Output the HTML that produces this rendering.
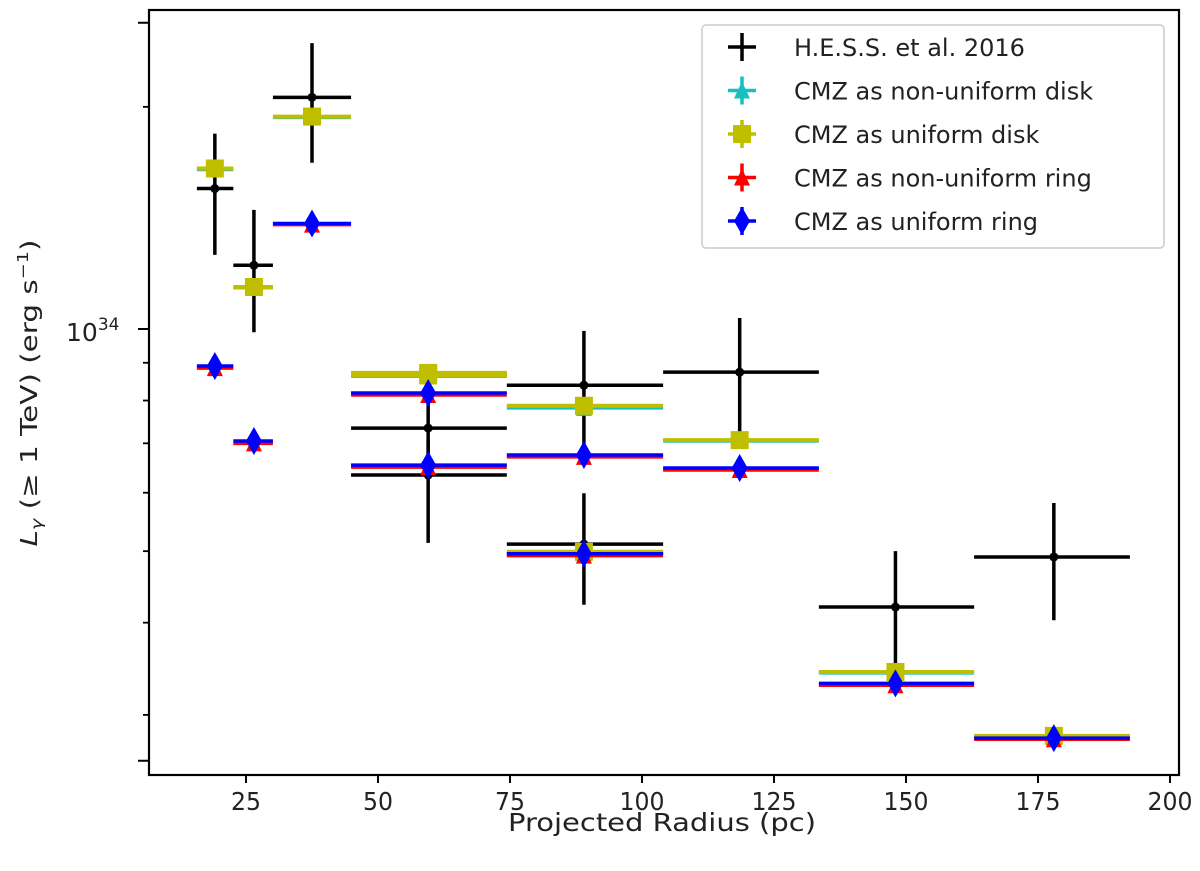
<!DOCTYPE html>
<html><head><meta charset="utf-8"><style>
html,body{margin:0;padding:0;background:#fff;}
svg{display:block;font-family:"DejaVu Sans","Liberation Sans",sans-serif;}
</style></head><body>
<svg id="chart" width="1200" height="871" viewBox="0 0 1200 871" xmlns="http://www.w3.org/2000/svg">
<rect x="0" y="0" width="1200" height="871" fill="#fff"/>
<g id="marks"></g>
<rect x="149" y="10" width="1030" height="765" fill="none" stroke="#000" stroke-width="2.2"/>
<g id="axes"></g>
<text x="662" y="831" font-size="25" text-anchor="middle" textLength="308" lengthAdjust="spacingAndGlyphs" fill="#222">Projected Radius (pc)</text>
<text transform="translate(37,393) rotate(-90)" font-size="23" text-anchor="middle" textLength="307" lengthAdjust="spacingAndGlyphs" fill="#222"><tspan font-style="italic">L</tspan><tspan font-style="italic" font-size="15" dy="5">γ</tspan><tspan dy="-5"> (≥ 1 TeV) (erg s</tspan><tspan font-size="15" dy="-9">−1</tspan><tspan dy="9">)</tspan></text>
<g>
<rect x="702" y="25" width="462" height="223" rx="4" fill="#fff" stroke="#ccc" stroke-width="1.5"/>
<g id="legend-entries"></g>
</g>
</svg>
<script>
const lo=[15.7,22.6,30.1,44.9,44.9,74.4,74.4,104,133.5,162.9];
const hi=[22.6,30.1,44.9,74.4,74.4,104,104,133.5,162.9,192.4];
const centers=[19.1,26.5,37.5,59.5,59.5,89,89,118.5,148,178];
const hessVal=[15.5,12.2,20.6,7.34,6.34,8.39,5.11,8.74,4.20,4.91];
const hessLo=[12.6,9.9,16.8,6.5,5.13,6.54,4.23,7.07,3.48,4.03];
const hessHi=[18.4,14.5,24.4,8.2,7.1,9.94,5.99,10.35,5.0,5.81];
const nonUniDisk=[16.45,11.38,19.35,8.7,8.63,7.82,4.97,7.05,3.42,2.80];
const uniDisk=[16.5,11.4,19.4,8.72,8.65,7.87,4.99,7.07,3.43,2.81];
const nonUniRing=[8.85,7.0,13.85,8.14,6.5,6.71,4.93,6.44,3.29,2.78];
const uniRing=[8.91,7.05,13.9,8.19,6.54,6.75,4.96,6.48,3.31,2.79];
const xTicks=[25,50,75,100,125,150,175,200];
const yMinorTicks=[3,4,5,6,7,8,9,20];
const yMajorTicks=[2.6,10,26];

const NS='http://www.w3.org/2000/svg';
function X(v){return 114+5.28*v;}
function Y(v){return 329-738*Math.log10(v/10);}
function mk(tag,attrs,parent){const e=document.createElementNS(NS,tag);for(const k in attrs)e.setAttribute(k,attrs[k]);parent.appendChild(e);return e;}
const marks=document.getElementById('marks');
const axes=document.getElementById('axes');

function hline(g,i,y,color,w){
  const l=mk('line',{x1:X(lo[i]),x2:X(hi[i]),y1:y,y2:y,stroke:color,'stroke-width':w},g);
  
  
}
function marker(g,type,cx,cy,color){
  let e;
  if(type==='circle'){e=mk('circle',{cx:cx,cy:cy,r:4.5,fill:color},g);}
  else if(type==='square'){e=mk('rect',{x:cx-9,y:cy-9,width:18,height:18,fill:color},g);}
  else if(type==='diamond'){e=mk('polygon',{points:`${cx},${cy-14} ${cx+8},${cy} ${cx},${cy+14} ${cx-8},${cy}`,fill:color},g);}
  else if(type==='tri'){e=mk('polygon',{points:`${cx},${cy-9} ${cx+8},${cy+8} ${cx-8},${cy+8}`,fill:color},g);}
  return e;
}
function series(name,vals,color,type,w){
  const g=mk('g',{},marks);
  
  
  vals.forEach((v,i)=>{
    const y=Y(v);
    hline(g,i,y,color,w);
    const m=marker(g,type,X(centers[i]),y,color);
    
    
  });
}
(function(){
  const g=mk('g',{},marks);
  
  
  hessVal.forEach((v,i)=>{
    const cx=X(centers[i]);
    const vl=mk('line',{x1:cx,x2:cx,y1:Y(hessHi[i]),y2:Y(hessLo[i]),stroke:'#000','stroke-width':3.5},g);
    
    
    hline(g,i,Y(v),'#000',3.5);
    const m=marker(g,'circle',cx,Y(v),'#000');
    
    
  });
})();
series('non-uniform-disk-series',nonUniDisk,'#17bfbf','tri',3.5);
series('uniform-disk-series',uniDisk,'#bfbf00','square',4);
series('non-uniform-ring-series',nonUniRing,'#ff0000','tri',3.5);
series('uniform-ring-series',uniRing,'#0000ff','diamond',3.5);

xTicks.forEach(t=>{
  const x=X(t);
  const l=mk('line',{x1:x,x2:x,y1:775,y2:783,stroke:'#000','stroke-width':2},axes);
  
  
  const tx=mk('text',{x:x,y:810,'font-size':25,'text-anchor':'middle',fill:'#222',textLength:(String(t).length*15),lengthAdjust:'spacingAndGlyphs'},axes);
  tx.textContent=t;
  
  
});
yMinorTicks.forEach(t=>{
  const y=Y(t);
  const l=mk('line',{x1:143,x2:149,y1:y,y2:y,stroke:'#000','stroke-width':1.8},axes);
  
  
});
yMajorTicks.forEach(t=>{
  const y=Y(t);
  const l=mk('line',{x1:138,x2:149,y1:y,y2:y,stroke:'#000','stroke-width':2},axes);
  
  
});
const yl=mk('text',{x:66,y:Y(10)+12,'font-size':25,fill:'#222'},axes);


yl.innerHTML='10<tspan font-size="17" dy="-11">34</tspan>';

const legendLabels=['H.E.S.S. et al. 2016','CMZ as non-uniform disk','CMZ as uniform disk','CMZ as non-uniform ring','CMZ as uniform ring'];
const legendColors=['#000','#17bfbf','#bfbf00','#ff0000','#0000ff'];
const legendTypes=['circle','tri','square','tri','diamond'];
const lg=document.getElementById('legend-entries');
legendLabels.forEach((lab,i)=>{
  const y=47+i*43.5;
  const g=mk('g',{},lg);
  
  
  mk('line',{x1:728,x2:756,y1:y,y2:y,stroke:legendColors[i],'stroke-width':3.5},g);
  mk('line',{x1:742,x2:742,y1:y-14,y2:y+14,stroke:legendColors[i],'stroke-width':3.5},g);
  if(i>0)marker(g,legendTypes[i],742,y,legendColors[i]);
  const t=mk('text',{x:794,y:y+9,'font-size':24,fill:'#222'},g);
  t.textContent=lab;
});
</script>
</body></html>
